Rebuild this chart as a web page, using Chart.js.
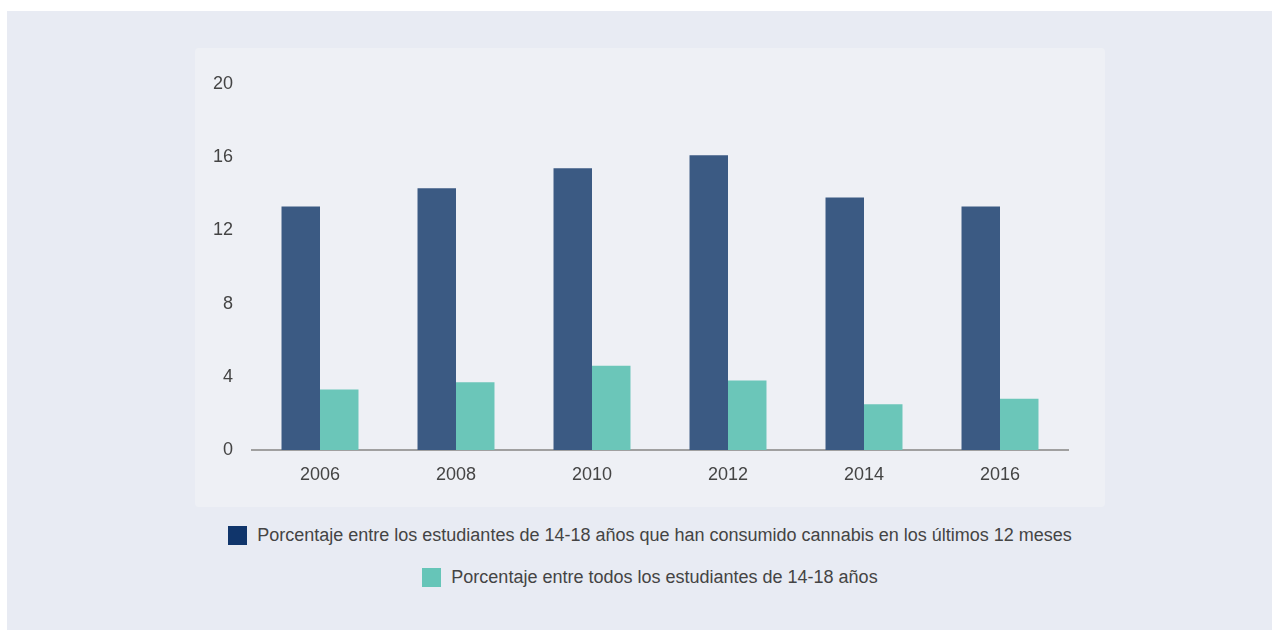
<!DOCTYPE html>
<html lang="es">
<head>
<meta charset="utf-8">
<title>Consumo de cannabis entre estudiantes</title>
<script src="https://cdn.jsdelivr.net/npm/chart.js@4.4.1/dist/chart.umd.min.js"></script>
<style>
  html, body { margin: 0; padding: 0; background: #ffffff; }
  body { width: 1279px; height: 630px; position: relative; overflow: hidden;
         font-family: "Liberation Sans", Arial, Helvetica, sans-serif; }
  .outer { position: absolute; left: 7px; top: 11px; width: 1265px; height: 619px; background: #e8ebf3; }
  .panel { position: absolute; left: 195px; top: 48px; width: 910px; height: 459px;
           background: #eef0f5; border-radius: 4px; }
  .panel canvas { display: block; }
  .legend-row { position: absolute; left: 0; width: 1300px; display: flex; justify-content: center;
                align-items: center; color: #444; font-size: 18px; }
  .legend-row .box { width: 19px; height: 19px; margin-right: 10px; flex: none; }
</style>
</head>
<body>
<div class="outer"></div>
<div class="panel"><canvas id="chart" width="910" height="459"></canvas></div>
<div id="legend"></div>

<script>
// Data
const YEARS = ['2006', '2008', '2010', '2012', '2014', '2016'];
const CANNABIS_USERS = [13.3, 14.3, 15.4, 16.1, 13.8, 13.3];
const ALL_STUDENTS = [3.3, 3.7, 4.6, 3.8, 2.5, 2.8];
const SERIES_LABELS = [
  'Porcentaje entre los estudiantes de 14-18 años que han consumido cannabis en los últimos 12 meses',
  'Porcentaje entre todos los estudiantes de 14-18 años'
];
const Y_TICKS = [0, 4, 8, 12, 16, 20];

// Styles
const BAR_COLORS = ['#3b5a83', '#6bc6b9'];
const LEGEND_COLORS = ['#10356b', '#66c5b8'];
const TEXT_COLOR = '#444444';
const FONT = { family: '"Liberation Sans", Arial, Helvetica, sans-serif', size: 18 };

const chart = new Chart(document.getElementById('chart'), {
  type: 'bar',
  data: {
    labels: YEARS,
    datasets: [CANNABIS_USERS, ALL_STUDENTS].map((data, i) => ({
      label: SERIES_LABELS[i],
      data,
      backgroundColor: BAR_COLORS[i],
      borderWidth: 0,
      categoryPercentage: 0.566,
      barPercentage: 1
    }))
  },
  options: {
    responsive: false,
    animation: false,
    layout: { padding: { top: 36, right: 37, bottom: 0, left: 0 } },
    plugins: { legend: { display: false }, tooltip: { enabled: false } },
    scales: {
      x: {
        grid: { display: false, drawTicks: false },
        border: { display: true, color: '#a0a0a0', width: 2 },
        ticks: { color: TEXT_COLOR, font: FONT, padding: 14, maxRotation: 0 },
        afterFit: s => { s.height = 57; }
      },
      y: {
        min: 0,
        max: 20,
        grid: { display: false, drawTicks: false },
        border: { display: false },
        afterBuildTicks: s => { s.ticks = Y_TICKS.map(v => ({ value: v })); },
        ticks: { color: TEXT_COLOR, font: FONT, padding: 19 },
        afterFit: s => { s.width = 57; }
      }
    }
  }
});

// HTML legend, one series per row, placed under the panel
const LEGEND_TOPS = [526, 568];
document.getElementById('legend').innerHTML = chart.data.datasets.map((ds, i) => `
  <div class="legend-row" style="top:${LEGEND_TOPS[i]}px; height:19px;">
    <span class="box" style="background:${LEGEND_COLORS[i]}"></span>
    <span>${ds.label}</span>
  </div>
`).join('');
</script>
</body>
</html>
